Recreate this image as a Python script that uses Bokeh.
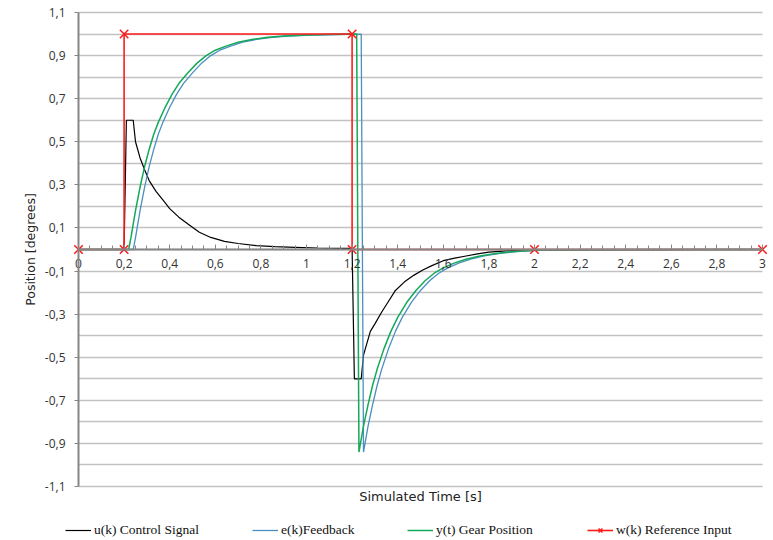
import math
from bokeh.plotting import figure
from bokeh.models import FixedTicker, Legend, LegendItem, Label
from bokeh.embed import file_html
from bokeh.resources import INLINE

# ---------------- data ----------------
u_t = [0, 0.2, 0.21, 0.24, 0.25, 0.27, 0.29, 0.31, 0.34, 0.37, 0.40, 0.44, 0.48, 0.53, 0.58,
       0.64, 0.70, 0.78, 0.86, 0.95, 1.05, 1.20, 1.21, 1.24, 1.25, 1.28, 1.30, 1.33, 1.36, 1.39,
       1.43, 1.47, 1.51, 1.55, 1.60, 1.65, 1.70, 1.75, 1.80, 1.90, 2.00, 3.00]
u_v = [0, 0, 0.60, 0.60, 0.50, 0.425, 0.37, 0.32, 0.27, 0.23, 0.19, 0.15, 0.118, 0.080, 0.056,
       0.038, 0.028, 0.018, 0.013, 0.010, 0.007, 0.005, -0.60, -0.60, -0.49, -0.38, -0.345, -0.29, -0.24, -0.19,
       -0.15, -0.12, -0.095, -0.075, -0.052, -0.04, -0.03, -0.02, -0.012, -0.005, -0.002, 0]

e_t = [0, 0.24, 0.25, 0.27, 0.29, 0.31, 0.33, 0.35, 0.37, 0.40, 0.43, 0.46, 0.50, 0.54, 0.58,
       0.62, 0.67, 0.72, 0.78, 0.85, 0.92, 1.02, 1.12, 1.24, 1.25, 1.27, 1.29, 1.31, 1.33, 1.36,
       1.39, 1.42, 1.46, 1.50, 1.54, 1.58, 1.62, 1.67, 1.72, 1.78, 1.85, 1.92, 2.02, 2.12, 3.00]
e_v = [0, 0, 0.055, 0.18, 0.29, 0.385, 0.465, 0.535, 0.59, 0.66, 0.72, 0.77, 0.82, 0.865, 0.90,
       0.925, 0.945, 0.962, 0.975, 0.985, 0.991, 0.995, 0.998, 1.0, -0.94, -0.82, -0.72, -0.63, -0.555, -0.46,
       -0.38, -0.315, -0.245, -0.19, -0.145, -0.11, -0.085, -0.062, -0.045, -0.03, -0.018, -0.01, -0.004, -0.001, 0]

y_t = [0, 0.22, 0.23, 0.25, 0.27, 0.29, 0.31, 0.33, 0.35, 0.38, 0.41, 0.44, 0.48, 0.52, 0.56,
       0.60, 0.65, 0.70, 0.76, 0.83, 0.90, 1.00, 1.10, 1.22, 1.23, 1.25, 1.27, 1.29, 1.31, 1.34,
       1.37, 1.40, 1.44, 1.48, 1.52, 1.56, 1.60, 1.65, 1.70, 1.76, 1.83, 1.90, 2.00, 2.10, 3.00]
y_v = [0, 0, 0.055, 0.18, 0.29, 0.385, 0.465, 0.535, 0.59, 0.66, 0.72, 0.77, 0.82, 0.865, 0.90,
       0.925, 0.945, 0.962, 0.975, 0.985, 0.991, 0.995, 0.998, 1.0, -0.94, -0.82, -0.72, -0.63, -0.555, -0.46,
       -0.38, -0.315, -0.245, -0.19, -0.145, -0.11, -0.085, -0.062, -0.045, -0.03, -0.018, -0.01, -0.004, -0.001, 0]

w_t = [0, 0.2, 0.2, 1.2, 1.2, 2, 3]
w_v = [0, 0, 1, 1, 0, 0, 0]

series_names = ["u(k) Control Signal", "e(k)Feedback", "y(t) Gear Position", "w(k) Reference Input"]

x_ticks = [0, 0.2, 0.4, 0.6, 0.8, 1, 1.2, 1.4, 1.6, 1.8, 2, 2.2, 2.4, 2.6, 2.8, 3]
x_labels = ["0", "0,2", "0,4", "0,6", "0,8", "1", "1,2", "1,4", "1,6", "1,8", "2", "2,2", "2,4", "2,6", "2,8", "3"]
y_ticks = [-1.1, -0.9, -0.7, -0.5, -0.3, -0.1, 0.1, 0.3, 0.5, 0.7, 0.9, 1.1]
y_labels = ["-1,1", "-0,9", "-0,7", "-0,5", "-0,3", "-0,1", "0,1", "0,3", "0,5", "0,7", "0,9", "1,1"]
y_minor = [-1.0, -0.8, -0.6, -0.4, -0.2, 0.0, 0.2, 0.4, 0.6, 0.8, 1.0]
x_minor = [round(i * 0.05, 2) for i in range(61)]

X_LIM = (0, 3)
Y_LIM = (-1.1, 1.1)

# ---------------- figure ----------------
TICK_FONT = "Open Sans"
TITLE_FONT = "DejaVu Sans"
# The frame covers the whole canvas; both axes cross at the origin (fixed_location)
# and are bounded, so the titles and the legend can be drawn around the data area.
p = figure(width=773, height=540, x_range=(-0.34211, 3.04825), y_range=(-1.3506, 1.1557),
           output_backend="svg", toolbar_location=None,
           min_border_left=0, min_border_right=0, min_border_top=0, min_border_bottom=0)
p.outline_line_color = None
p.background_fill_color = "white"
p.xgrid.visible = False

# y axis through x = 0
yax = p.yaxis[0]
yax.fixed_location = 0
yax.bounds = Y_LIM
yax.ticker = FixedTicker(ticks=y_ticks, minor_ticks=y_minor)
yax.major_label_overrides = dict(zip(y_ticks, y_labels))
yax.axis_line_color = "#868686"
yax.axis_line_width = 2
yax.major_tick_line_color = "#868686"
yax.major_tick_in = 0
yax.major_tick_out = 4
yax.minor_tick_line_color = None
yax.major_label_standoff = 9
yax.major_label_text_font = TICK_FONT
yax.major_label_text_font_size = "12px"
yax.major_label_text_color = "#333333"

# horizontal grid lines, only across the data area
g = p.ygrid[0]
g.bounds = Y_LIM
g.grid_line_color = "#c2c2c2"
g.grid_line_width = 1.5
g.minor_grid_line_color = "#c2c2c2"
g.minor_grid_line_width = 1.5
if "cross_bounds" in g.properties():
    g.cross_bounds = X_LIM
else:
    g.visible = False
    gy = y_ticks + y_minor
    p.segment(x0=[X_LIM[0]] * len(gy), x1=[X_LIM[1]] * len(gy), y0=gy, y1=gy,
              line_color="#c2c2c2", line_width=1.5)

# x axis through y = 0
xax = p.xaxis[0]
xax.fixed_location = 0
xax.bounds = X_LIM
xax.ticker = FixedTicker(ticks=x_ticks, minor_ticks=x_minor)
xax.major_label_overrides = dict(zip(x_ticks, x_labels))
xax.axis_line_color = "#868686"
xax.axis_line_width = 2
xax.major_tick_line_color = "#868686"
xax.minor_tick_line_color = "#868686"
xax.major_tick_in = 5
xax.major_tick_out = 0
xax.minor_tick_in = 4
xax.minor_tick_out = 0
xax.major_label_standoff = 9
xax.major_label_text_font = TICK_FONT
xax.major_label_text_font_size = "12px"
xax.major_label_text_color = "#333333"

# ---------------- series ----------------
r_u = p.line(u_t, u_v, line_color="#000000", line_width=1.2)
r_e = p.line(e_t, e_v, line_color="#4a8fc0", line_width=1.3)
r_y = p.line(y_t, y_v, line_color="#14a85a", line_width=1.5)
r_w = p.line(w_t, w_v, line_color="#ff1a1a", line_width=1.6)
r_wm = p.scatter(w_t, w_v, marker="x", size=12, line_color="#ff1a1a", line_width=1.5)

# axis titles
p.add_layout(Label(x=1.5, y=Y_LIM[0], y_offset=-10, text="Simulated Time [s]",
                   text_align="center", text_baseline="middle",
                   text_font=TITLE_FONT, text_font_size="13px", text_color="#222222"))
p.add_layout(Label(x=30, x_units="screen", y=0, angle=math.pi / 2, text="Position [degrees]",
                   text_align="center", text_baseline="middle",
                   text_font=TITLE_FONT, text_font_size="12.5px", text_color="#222222"))

# legend row at the bottom (one item per legend, placed along the row)
item_renderers = [[r_u], [r_e], [r_y], [r_w, r_wm]]
x_offsets = [65, 252, 407, 587]
for name, rends, xo in zip(series_names, item_renderers, x_offsets):
    lg = Legend(items=[LegendItem(label=name, renderers=rends)],
                location=(xo, 2), orientation="horizontal",
                padding=0, margin=0, spacing=0,
                glyph_width=26, glyph_height=14, label_height=14, label_standoff=3,
                label_text_font="Liberation Serif", label_text_font_size="13.5px",
                label_text_color="#111111",
                border_line_color=None, background_fill_alpha=0)
    p.add_layout(lg, "center")

open("out.html", "w").write(file_html(p, INLINE))
